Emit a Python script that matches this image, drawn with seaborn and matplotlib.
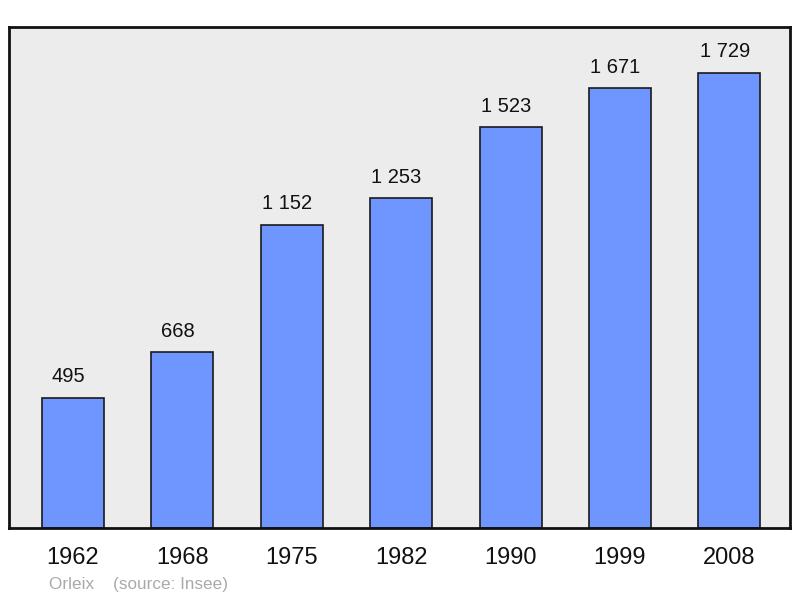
import matplotlib
matplotlib.use("Agg")
import matplotlib.pyplot as plt
import seaborn as sns
import pandas as pd

years = ["1962", "1968", "1975", "1982", "1990", "1999", "2008"]
population = [495, 668, 1152, 1253, 1523, 1671, 1729]

df = pd.DataFrame({"year": years, "pop": population})

sns.set_theme(style="white")
plt.rcParams["font.family"] = ["Liberation Sans", "DejaVu Sans"]

fig = plt.figure(figsize=(8, 5.98), dpi=100)
ax = fig.add_axes([9/800, 1 - 528/598, 781/800, 501/598])
ax.set_facecolor("#ececec")

sns.barplot(data=df, x="year", y="pop", color="#6f96ff", saturation=1,
            width=0.567, edgecolor="#1a1a1a", linewidth=1.2, ax=ax)

ax.set_xlim(-0.585, 6.554)
ax.set_ylim(0, 1903)
ax.set_yticks([])
ax.set_xlabel("")
ax.set_ylabel("")
ax.tick_params(axis="x", length=0, labelsize=17, pad=13.5, colors="#111111")

for i, v in enumerate(population):
    lbl = f"{v:,}".replace(",", " ")
    ax.annotate(lbl, (i, v), xytext=(-3.3, 15), textcoords="offset points",
                ha="center", va="center", fontsize=14.5, color="#111111")

for s in ax.spines.values():
    s.set_visible(True)
    s.set_color("#111111")
    s.set_linewidth(2)

fig.text(49/800, 1 - 584/598, "Orleix    (source: Insee)", fontsize=12.3,
         color="#aaaaaa", ha="left", va="center")

fig.savefig("out.png", dpi=100)
